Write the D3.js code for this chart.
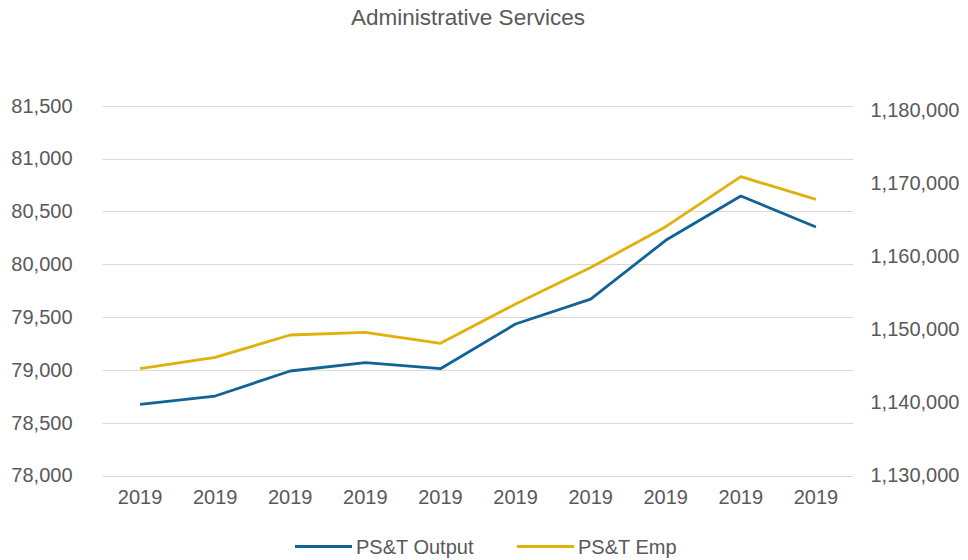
<!DOCTYPE html>
<html>
<head>
<meta charset="utf-8">
<script src="https://cdn.jsdelivr.net/npm/d3@7"></script>
<style>
  body { margin: 0; background: #fff; }
  svg text { font-family: "Liberation Sans", Arial, Helvetica, sans-serif; fill: #595959; }
</style>
</head>
<body>
<div id="chart"></div>
<script>
'use strict';

// chart data
var categories = ['2019', '2019', '2019', '2019', '2019', '2019', '2019', '2019', '2019', '2019'];
var output = [78674, 78752, 78989, 79068, 79011, 79434, 79669, 80226, 80645, 80352];
var emp = [1144610, 1146170, 1149220, 1149590, 1148085, 1153460, 1158450, 1164040, 1170880, 1167780];
var leftTicks = [78000, 78500, 79000, 79500, 80000, 80500, 81000, 81500];
var rightTicks = [1130000, 1140000, 1150000, 1160000, 1170000, 1180000];
var seriesNames = ['PS&T Output', 'PS&T Emp'];

var width = 968;
var height = 560;
var margin = {top: 105.7, right: 114.5, bottom: 84.5, left: 102.5};
var blue = '#106396';
var gold = '#e0b00c';

var svg = d3.select('#chart')
            .append('svg')
            .attr('width', width)
            .attr('height', height);

var x = d3.scaleBand()
          .domain(d3.range(categories.length))
          .range([margin.left, width - margin.right]);

var yLeft = d3.scaleLinear()
              .domain([78000, 81500])
              .range([height - margin.bottom, margin.top]);

// right axis top sits a bit above its last label, like the original
var yRight = d3.scaleLinear()
               .domain([1130000, 1180590])
               .range([height - margin.bottom, margin.top]);

var fmt = d3.format(',');

// gridlines
svg.append('g')
    .selectAll('line')
    .data(leftTicks)
    .enter()
    .append('line')
    .attr('x1', margin.left)
    .attr('x2', width - margin.right)
    .attr('y1', function(d) { return Math.round(yLeft(d)) + 0.5; })
    .attr('y2', function(d) { return Math.round(yLeft(d)) + 0.5; })
    .style('stroke', '#d9d9d9')
    .style('stroke-width', 1);

var leftAxis = svg.append('g')
    .attr('transform', 'translate(' + margin.left + ',0)')
    .call(d3.axisLeft(yLeft).tickValues(leftTicks).tickFormat(fmt).tickSize(0).tickPadding(30));

var rightAxis = svg.append('g')
    .attr('transform', 'translate(' + (width - margin.right) + ',0)')
    .call(d3.axisRight(yRight).tickValues(rightTicks).tickFormat(fmt).tickSize(0).tickPadding(17));

var bottomAxis = svg.append('g')
    .attr('transform', 'translate(0,' + (height - margin.bottom) + ')')
    .call(d3.axisBottom(x).tickFormat(function(i) { return categories[i]; }).tickSize(0).tickPadding(14));

[leftAxis, rightAxis, bottomAxis].forEach(function(g) {
    g.select('.domain').remove();
    g.selectAll('text')
        .style('font-size', '20px')
        .style('fill', '#595959')
        .style('font-family', '"Liberation Sans", Arial, sans-serif');
});

var cx = function(d, i) { return x(i) + x.bandwidth() / 2; };

svg.append('path')
    .datum(output)
    .attr('fill', 'none')
    .attr('stroke', blue)
    .attr('stroke-width', 2.8)
    .attr('stroke-linejoin', 'round')
    .attr('d', d3.line().x(cx).y(function(d) { return yLeft(d); }));

svg.append('path')
    .datum(emp)
    .attr('fill', 'none')
    .attr('stroke', gold)
    .attr('stroke-width', 2.8)
    .attr('stroke-linejoin', 'round')
    .attr('d', d3.line().x(cx).y(function(d) { return yRight(d); }));

// title
svg.append('text')
    .attr('x', 468)
    .attr('y', 25)
    .attr('text-anchor', 'middle')
    .style('font-size', '22.5px')
    .text('Administrative Services');

// legend
var legend = svg.append('g')
    .selectAll('g')
    .data(seriesNames)
    .enter()
    .append('g')
    .attr('transform', function(d, i) { return 'translate(' + [295, 517][i] + ',546.5)'; });

legend.append('line')
    .attr('x1', 0)
    .attr('x2', 57)
    .style('stroke', function(d, i) { return i === 0 ? blue : gold; })
    .style('stroke-width', 2.8);

legend.append('text')
    .attr('x', 61)
    .attr('dy', '0.35em')
    .style('font-size', '20px')
    .text(function(d) { return d; });
</script>
</body>
</html>
